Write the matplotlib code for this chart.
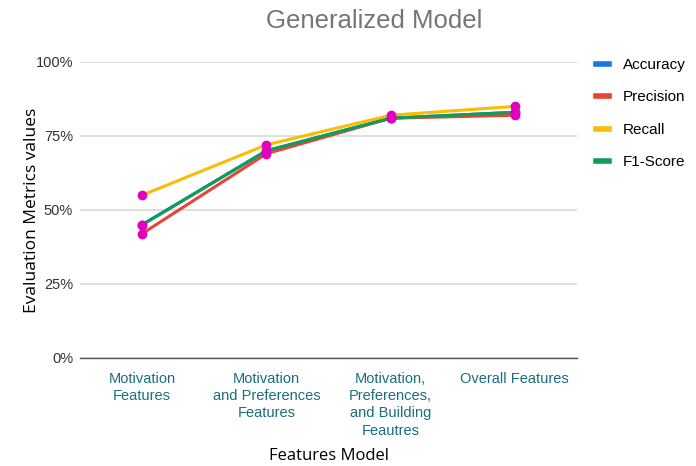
import matplotlib
matplotlib.use("Agg")
import matplotlib.pyplot as plt
from matplotlib.ticker import FuncFormatter

categories = ["Motivation\nFeatures", "Motivation\nand Preferences\nFeatures",
              "Motivation,\nPreferences,\nand Building\nFeautres", "Overall Features"]
accuracy = [0.45, 0.70, 0.81, 0.83]
precision = [0.42, 0.69, 0.81, 0.82]
recall = [0.55, 0.72, 0.82, 0.85]
f1_score = [0.45, 0.70, 0.81, 0.83]
yticks = [0, 0.25, 0.5, 0.75, 1.0]

series = [("Accuracy", accuracy, "#1a73e8"),
          ("Precision", precision, "#ea4335"),
          ("Recall", recall, "#fbbc04"),
          ("F1-Score", f1_score, "#0f9d58")]

fig = plt.figure(figsize=(6.96, 4.66), dpi=100)
ax = fig.add_axes([0.115, 0.232, 0.714, 0.635])
x = list(range(len(categories)))
for name, vals, col in series:
    ax.plot(x, vals, color=col, lw=2.2, label=name, zorder=3)
for name, vals, col in series:
    ax.plot(x, vals, ls="none", marker="o", ms=6, color="#e000c0", zorder=4)

ax.set_xlim(-0.5, 3.5)
ax.set_ylim(0, 1.0)
ax.set_yticks(yticks)
ax.yaxis.set_major_formatter(FuncFormatter(lambda v, p: f"{int(round(v*100))}%"))
ax.grid(axis="y", color="#d9d9d9", lw=1.2, zorder=0)
for s in ["top", "right", "left"]:
    ax.spines[s].set_visible(False)
ax.spines["bottom"].set_color("#555555")
ax.spines["bottom"].set_linewidth(1)
ax.tick_params(axis="both", length=0)
ax.tick_params(axis="y", labelsize=10.5, labelcolor="#333333", pad=5)
ax.set_xticks(x)
ax.set_xticklabels(categories, fontsize=10.5, color="#1a6e7e", family="Liberation Sans",
                   va="top", linespacing=1.3)
ax.tick_params(axis="x", pad=10)
for lab in ax.get_yticklabels():
    lab.set_family("Liberation Sans")

ax.set_ylabel("Evaluation Metrics values", fontsize=12.5, family="Open Sans")
ax.yaxis.set_label_coords(-0.08, 0.5)
ax.set_xlabel("Features Model", fontsize=12, family="Open Sans")
ax.xaxis.set_label_coords(0.5, -0.305)
fig.text(0.537, 0.955, "Generalized Model", fontsize=18.5, color="#757575",
         family="Liberation Sans", ha="center", va="center")

leg = ax.legend(loc="upper left", bbox_to_anchor=(1.01, 1.06), frameon=False,
                handlelength=0.9, handleheight=0.5, labelspacing=1.2,
                handletextpad=0.9, prop={"family": "Liberation Sans", "size": 11})
for h in leg.get_lines():
    h.set_linewidth(4)
fig.savefig("out.png", dpi=100, facecolor="white")
